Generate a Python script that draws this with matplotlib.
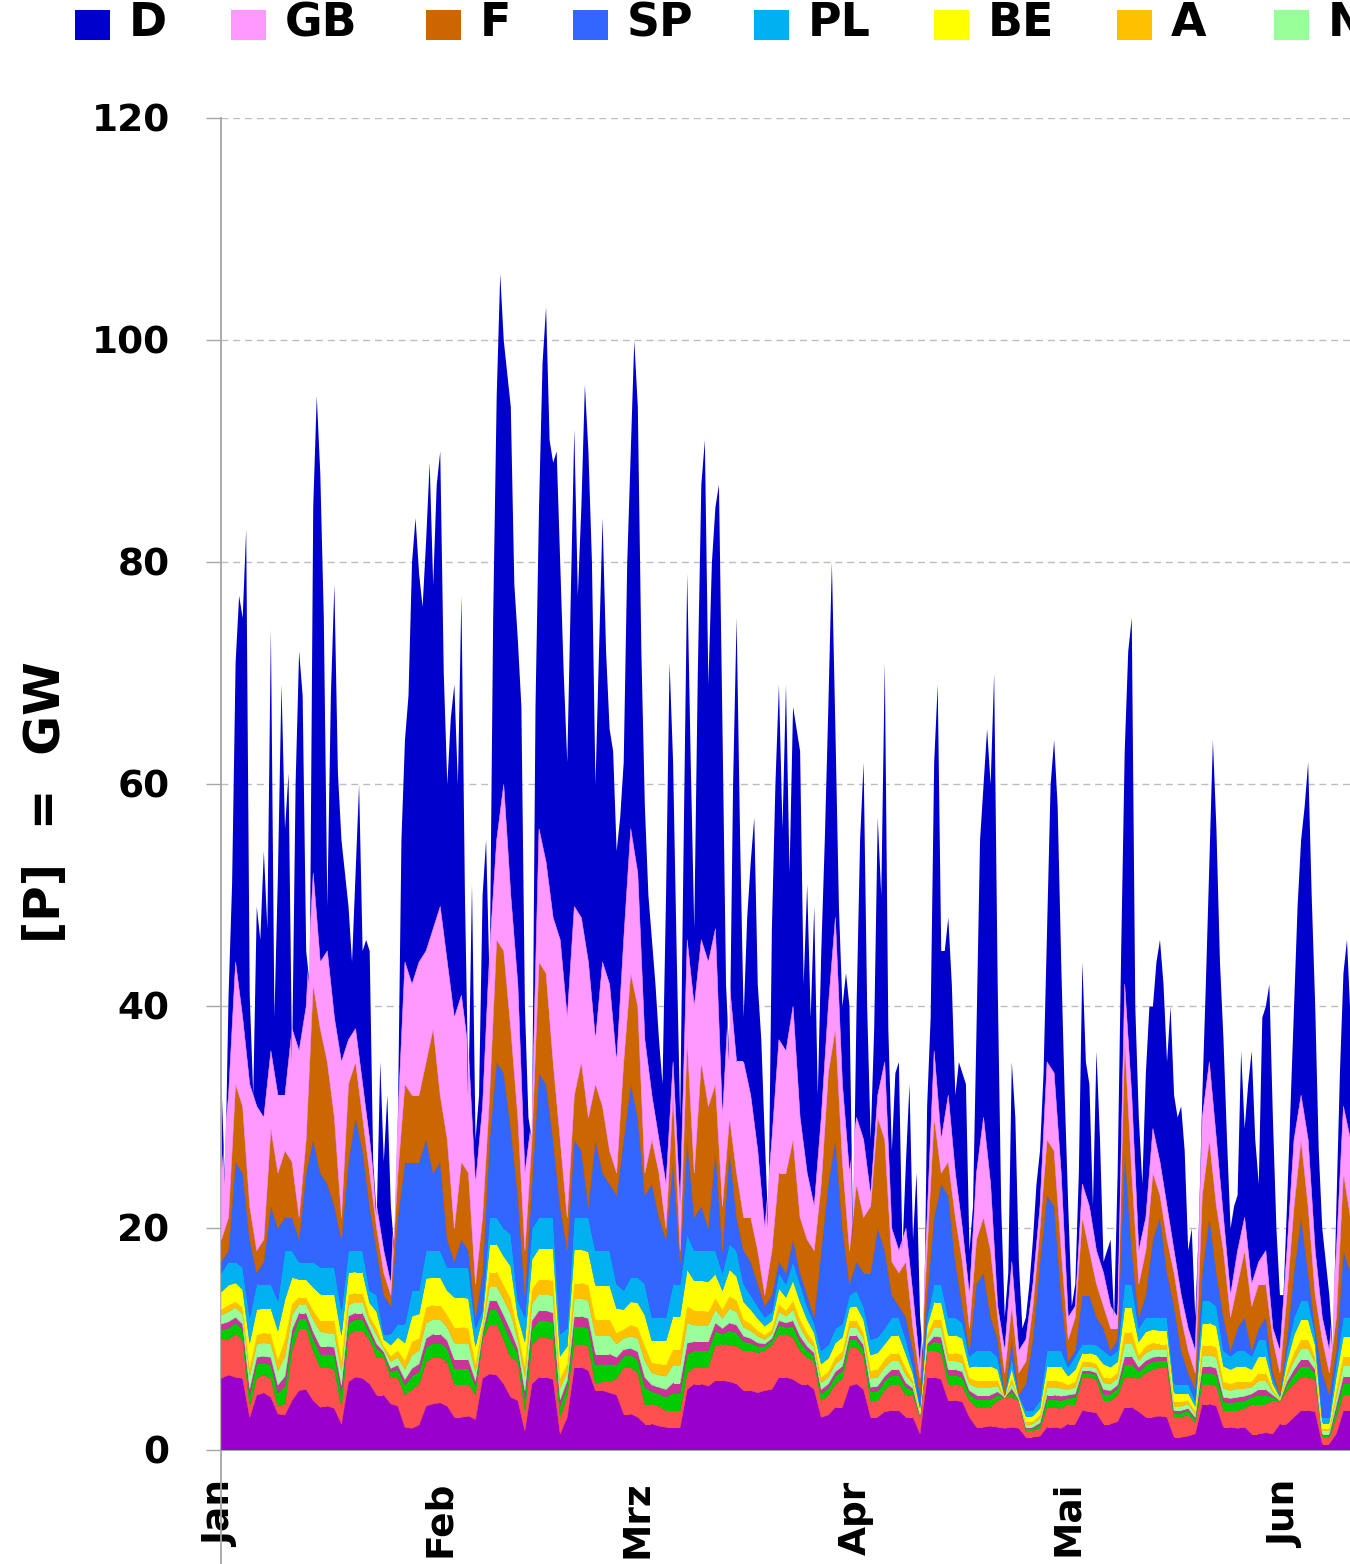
import numpy as np
import matplotlib.pyplot as plt
from matplotlib.patches import Rectangle
from matplotlib.lines import Line2D

# Windeinspeisung Europa, Jan - Jun (GW)
# Summe aller Laender, halbtaegig (Tag 0 = 1. Januar)
total = [
    33, 24, 41, 51, 71, 77, 75, 83, 41, 32, 49, 46, 54, 47, 74, 39, 52, 69, 56, 61,
    35, 60, 72, 68, 45, 42, 85, 95, 88, 75, 49, 68, 78, 61, 55, 52, 49, 44, 52, 60,
    45, 46, 45, 26, 21, 35, 26, 32, 22, 18, 30, 55, 64, 68, 80, 84, 79, 76, 82, 89,
    78, 87, 90, 70, 60, 66, 69, 60, 77, 50, 32, 51, 28, 32, 50, 55, 42, 75, 95, 106,
    100, 97, 94, 78, 73, 67, 40, 30, 28, 67, 85, 98, 103, 91, 89, 90, 80, 70, 62, 77,
    92, 77, 85, 96, 90, 80, 60, 72, 84, 72, 65, 63, 54, 57, 62, 80, 90, 100, 94, 72,
    58, 50, 46, 42, 37, 33, 50, 71, 62, 45, 30, 55, 79, 62, 47, 70, 87, 91, 69, 80,
    85, 87, 65, 42, 35, 60, 75, 55, 39, 48, 53, 57, 42, 37, 28, 20, 47, 60, 69, 56,
    69, 52, 67, 65, 63, 42, 51, 39, 49, 32, 45, 55, 67, 80, 65, 49, 40, 43, 40, 19,
    40, 55, 62, 40, 28, 38, 57, 50, 71, 38, 27, 34, 35, 18, 26, 33, 19, 25, 12, 8,
    31, 39, 62, 69, 45, 45, 48, 42, 32, 35, 34, 33, 18, 22, 38, 55, 60, 65, 60, 70,
    42, 22, 12, 16, 35, 30, 17, 11, 12, 15, 19, 24, 27, 34, 47, 60, 64, 58, 44, 32,
    22, 13, 15, 25, 44, 35, 33, 22, 36, 28, 17, 18, 19, 12, 25, 45, 63, 72, 75, 40,
    30, 24, 34, 40, 40, 44, 46, 42, 35, 40, 32, 30, 31, 27, 18, 20, 12, 20, 32, 42,
    53, 64, 56, 44, 37, 28, 20, 22, 23, 36, 29, 33, 36, 28, 24, 39, 40, 42, 30, 20,
    14, 14, 22, 31, 40, 49, 55, 58, 62, 50, 40, 27, 20, 17, 14, 9, 22, 34, 43, 46, 39,
]

# Obergrenzen der Schichten, taeglich (GW)
top_gb = [
    25, 32, 44, 39, 33, 31, 30, 36, 32, 32, 38, 36, 40, 52, 44, 45, 39, 35, 37, 38,
    33, 28, 22, 18, 15, 30, 44, 42, 44, 45, 47, 49, 44, 39, 41, 36, 24, 31, 45, 55,
    60, 50, 42, 25, 30, 56, 53, 48, 46, 39, 49, 48, 44, 37, 44, 42, 35, 46, 56, 52,
    37, 32, 28, 24, 35, 22, 46, 40, 46, 44, 47, 30, 42, 35, 35, 32, 27, 20, 28, 37,
    36, 40, 30, 25, 22, 30, 40, 48, 33, 25, 30, 28, 23, 32, 35, 20, 18, 20, 14, 7.5,
    21, 36, 28, 32, 25, 20, 14, 25, 30, 24, 13, 9, 17, 9, 10, 15, 22, 35, 34, 25,
    12, 13, 24, 22, 18, 16, 13, 12, 42, 32, 18, 21, 29, 26, 22, 18, 14, 11, 9, 30,
    35, 28, 21, 14, 18, 21, 15, 17, 18, 11, 9, 18, 28, 32, 28, 18, 12, 9, 18, 31,
    28,
]
top_f = [
    19, 21, 33, 31, 22, 18, 19, 29, 25, 27, 26, 21, 28, 42, 38, 35, 30, 21, 33, 35,
    30, 25, 20, 16, 14, 25, 33, 32, 32, 35, 38, 32, 28, 20, 26, 25, 15, 21, 32, 46,
    45, 38, 30, 18, 28, 44, 43, 35, 28, 21, 32, 35, 30, 33, 31, 27, 25, 35, 43, 40,
    25, 28, 25, 20, 32, 18, 37, 25, 35, 31, 33, 22, 30, 25, 21, 21, 18, 14, 18, 25,
    25, 28, 21, 19, 18, 24, 34, 38, 26, 18, 24, 21, 22, 30, 28, 17, 16, 17, 11, 6.5,
    18, 30, 25, 26, 21, 17, 11, 19, 21, 18, 12, 7, 13, 7, 8, 13, 20, 28, 27, 18,
    10, 12, 21, 18, 15, 13, 11, 11, 37, 25, 15, 18, 25, 23, 19, 16, 12, 9, 7, 23,
    28, 22, 18, 12, 15, 18, 13, 15, 15, 10, 7, 14, 22, 28, 22, 14, 10, 7, 12, 25,
    21,
]
top_sp = [
    17, 18, 26, 25, 19, 16, 17, 22, 20, 21, 21, 19, 25, 28, 25, 24, 22, 19, 26, 30,
    27, 22, 18, 14, 13, 21, 26, 26, 26, 28, 25, 26, 19, 17, 19, 18, 12, 16, 28, 35,
    34, 29, 23, 14, 24, 34, 33, 28, 22, 18, 28, 27, 22, 28, 25, 24, 23, 28, 33, 30,
    23, 24, 21, 19, 26, 17, 28, 21, 22, 20, 27, 18, 27, 21, 18, 17, 15, 13, 14, 17,
    16, 19, 16, 14, 12, 18, 24, 28, 20, 15, 17, 16, 16, 20, 18, 14, 13, 12, 9, 5,
    14, 21, 24, 23, 17, 13, 9, 15, 16, 12, 10, 5, 10, 5, 6, 10, 17, 23, 22, 14,
    8, 9, 14, 14, 12, 11, 9, 10, 27, 18, 12, 14, 19, 21, 16, 13, 9, 7, 5.5, 16,
    21, 16, 12, 9, 11, 12, 9, 11, 12, 7, 5, 10, 16, 21, 16, 11, 7, 5, 9, 18,
    16,
]
top_pl = [
    16, 17, 17, 16.5, 12, 15, 15, 15, 13.5, 18, 18, 17, 17, 17, 16.5, 16.5, 16.5, 12.6, 18, 18,
    18, 14.4, 14, 10.5, 10.5, 11.4, 11.4, 14.4, 14.4, 18, 18, 18, 16.5, 16.5, 16.5, 16.5, 11, 12.6, 21, 21,
    20, 19.5, 13.5, 12, 20, 21, 21, 21, 10.5, 11, 21, 21, 21, 18, 18, 18, 15, 14.4, 15.6, 15.6,
    15, 12, 12, 12, 15, 15, 19.5, 18, 18, 18, 18, 16, 18.6, 18, 15, 14, 13, 12, 12.5, 16,
    15, 17, 15, 13, 11.5, 9, 9.5, 11, 11.4, 14, 14.4, 13, 10, 10.2, 11, 12, 12, 10, 7.5, 4,
    12, 15, 15, 12, 12, 11.5, 8.5, 9, 9, 9, 8.4, 5, 8.4, 5, 3.6, 3.6, 4.5, 9, 9, 9,
    7.5, 8.5, 9.6, 9.6, 9.5, 9, 8.5, 9, 15, 15, 11, 12, 12, 12, 12, 6, 6, 6, 4.5, 13.5,
    13.5, 13, 9, 8.5, 9, 9, 8.5, 10, 10, 6.5, 5, 9, 12, 13.5, 13.5, 10.5, 3, 3, 8, 12,
    12,
]

# untere Laender, taeglich (GW)
p_base = [
    6.5, 6.8, 6.6, 6.5, 3.0, 5.0, 5.2, 4.8, 3.3, 3.2, 4.5, 5.4, 5.5, 4.5, 3.9, 4.0, 3.8, 2.4, 6.2, 6.6,
    6.5, 6.0, 5.0, 5.0, 4.2, 4.0, 2.1, 2.0, 2.3, 4.0, 4.2, 4.3, 4.0, 3.0, 3.0, 3.1, 2.8, 6.5, 6.9, 6.8,
    6.0, 4.8, 4.5, 1.8, 6.0, 6.6, 6.6, 6.4, 1.5, 3.0, 7.5, 7.5, 7.2, 5.4, 5.4, 5.2, 5.0, 3.3, 3.3, 3.0,
    2.4, 2.4, 2.2, 2.1, 2.1, 2.1, 5.5, 6.0, 6.0, 5.8, 6.3, 6.3, 6.2, 6.0, 5.4, 5.4, 5.2, 5.4, 5.5, 6.6,
    6.6, 6.4, 6.0, 6.0, 5.5, 3.0, 3.2, 3.9, 3.9, 5.8, 6.0, 5.5, 3.0, 3.0, 3.5, 3.6, 3.6, 3.0, 3.0, 1.5,
    6.6, 6.6, 6.4, 4.5, 4.5, 4.4, 3.0, 2.1, 2.1, 2.2, 2.1, 2.0, 2.1, 2.0, 1.2, 1.2, 1.3, 2.1, 2.1, 2.0,
    2.4, 2.4, 3.6, 3.5, 3.4, 2.4, 2.4, 2.6, 3.9, 3.9, 3.5, 3.0, 3.0, 3.1, 3.0, 1.2, 1.2, 1.3, 1.5, 4.2,
    4.2, 4.0, 2.1, 2.1, 2.0, 2.1, 1.5, 1.5, 1.6, 1.5, 2.4, 2.4, 3.0, 3.6, 3.6, 3.5, 0.6, 0.6, 1.5, 3.6,
    3.6,
]
p_red = [
    3.5, 3.2, 3.9, 3.5, 1.0, 1.6, 1.6, 1.7, 0.7, 1.0, 4.5, 5.6, 5.5, 4.5, 3.6, 3.5, 3.5, 1.6, 4.3, 4.2,
    4.3, 4.0, 3.4, 3.4, 2.4, 2.6, 2.9, 3.5, 3.7, 4.0, 4.2, 4.1, 4.0, 3.0, 3.0, 2.9, 2.2, 3.5, 4.5, 4.6,
    4.0, 3.6, 3.5, 1.8, 3.5, 3.6, 3.6, 3.6, 1.5, 2.0, 2.1, 2.1, 2.2, 0.6, 0.8, 1.0, 1.5, 4.2, 4.2, 4.0,
    1.8, 1.8, 1.8, 1.5, 1.5, 1.5, 1.5, 1.5, 1.5, 1.7, 3.3, 3.3, 3.3, 3.4, 3.6, 3.6, 3.6, 3.6, 4.0, 3.9,
    3.9, 3.8, 3.0, 2.4, 2.5, 1.5, 1.8, 2.1, 2.6, 3.5, 3.3, 3.0, 1.5, 1.5, 2.0, 2.4, 2.4, 2.0, 2.0, 1.5,
    2.4, 2.4, 2.4, 1.5, 1.5, 1.4, 1.5, 1.8, 1.8, 1.7, 2.4, 2.8, 2.7, 2.5, 0.6, 0.6, 0.7, 1.8, 1.8, 1.8,
    1.8, 1.8, 3.0, 3.1, 3.0, 2.1, 2.1, 2.4, 2.7, 2.7, 3.0, 4.0, 4.3, 4.4, 4.5, 1.8, 1.8, 1.9, 1.0, 1.8,
    1.8, 1.8, 1.5, 1.5, 1.6, 1.7, 2.7, 2.7, 2.6, 3.0, 2.0, 3.0, 3.0, 3.0, 3.0, 2.9, 0.6, 0.6, 1.5, 1.5,
    1.5,
]
p_green = [
    0.9, 1.0, 1.0, 0.9, 1.0, 1.2, 1.1, 1.2, 1.2, 1.6, 1.2, 0.9, 0.9, 1.1, 1.2, 1.2, 1.3, 1.2, 1.0, 1.0,
    1.0, 0.6, 0.8, 0.3, 0.5, 0.7, 0.9, 1.2, 1.1, 1.3, 1.3, 1.3, 1.2, 1.4, 1.4, 1.4, 0.8, 0.4, 1.3, 1.3,
    1.4, 1.5, 0.8, 1.1, 1.4, 1.5, 1.5, 1.5, 1.0, 0.8, 1.6, 1.6, 1.6, 1.7, 1.6, 1.6, 1.2, 1.0, 1.1, 1.2,
    1.5, 1.1, 1.1, 1.2, 1.6, 1.6, 1.7, 1.5, 1.5, 1.5, 1.2, 0.9, 1.3, 1.2, 0.8, 0.7, 0.6, 0.4, 0.4, 0.8,
    0.6, 1.0, 0.8, 0.6, 0.5, 0.6, 0.6, 0.7, 0.7, 0.7, 0.7, 0.6, 0.8, 0.8, 0.8, 0.8, 0.8, 0.7, 0.4, 0.1,
    0.4, 0.8, 0.9, 0.8, 0.8, 0.8, 0.6, 0.7, 0.7, 0.7, 0.5, 0.0, 0.5, 0.1, 0.2, 0.2, 0.3, 0.7, 0.7, 0.7,
    0.5, 0.6, 0.4, 0.4, 0.4, 0.6, 0.6, 0.6, 1.2, 1.2, 0.6, 0.7, 0.7, 0.6, 0.6, 0.4, 0.4, 0.4, 0.3, 1.0,
    1.0, 1.0, 0.8, 0.7, 0.8, 0.7, 0.6, 0.8, 0.8, 0.3, 0.1, 0.5, 0.8, 1.0, 1.0, 0.6, 0.2, 0.2, 0.7, 1.0,
    1.0,
]
p_magenta = [
    0.5, 0.6, 0.5, 0.5, 0.6, 0.6, 0.6, 0.7, 0.7, 0.9, 0.7, 0.5, 0.5, 0.6, 0.7, 0.7, 0.7, 0.7, 0.6, 0.6,
    0.6, 0.4, 0.4, 0.2, 0.3, 0.4, 0.5, 0.7, 0.7, 0.8, 0.8, 0.8, 0.7, 0.8, 0.8, 0.8, 0.5, 0.2, 0.8, 0.8,
    0.8, 0.9, 0.4, 0.7, 0.8, 0.9, 0.9, 0.9, 0.6, 0.5, 0.9, 0.9, 0.9, 1.0, 0.9, 0.9, 0.7, 0.6, 0.6, 0.7,
    0.9, 0.6, 0.6, 0.7, 0.9, 0.9, 1.0, 0.8, 0.8, 0.8, 0.7, 0.5, 0.7, 0.7, 0.5, 0.4, 0.3, 0.2, 0.2, 0.4,
    0.4, 0.5, 0.5, 0.4, 0.3, 0.4, 0.4, 0.4, 0.4, 0.4, 0.4, 0.4, 0.4, 0.5, 0.4, 0.5, 0.5, 0.4, 0.2, 0.1,
    0.2, 0.5, 0.5, 0.5, 0.5, 0.5, 0.3, 0.4, 0.4, 0.4, 0.3, 0.0, 0.3, 0.0, 0.1, 0.1, 0.2, 0.4, 0.4, 0.4,
    0.3, 0.3, 0.2, 0.2, 0.2, 0.4, 0.3, 0.3, 0.7, 0.7, 0.4, 0.4, 0.4, 0.4, 0.4, 0.2, 0.2, 0.2, 0.2, 0.6,
    0.6, 0.6, 0.4, 0.4, 0.4, 0.4, 0.3, 0.5, 0.5, 0.2, 0.0, 0.3, 0.5, 0.6, 0.6, 0.3, 0.1, 0.1, 0.4, 0.6,
    0.6,
]
p_nl = [
    0.8, 0.9, 0.9, 0.9, 1.1, 1.2, 1.2, 1.2, 1.3, 1.8, 1.3, 0.8, 0.8, 1.1, 1.3, 1.2, 1.3, 1.2, 1.0, 1.0,
    1.0, 0.6, 0.8, 0.3, 0.6, 0.7, 0.9, 1.2, 1.2, 1.4, 1.3, 1.3, 1.2, 1.5, 1.5, 1.5, 0.8, 0.4, 1.3, 1.3,
    1.4, 1.5, 0.8, 1.2, 1.5, 1.5, 1.5, 1.5, 1.0, 0.8, 1.6, 1.6, 1.6, 1.7, 1.7, 1.7, 1.2, 1.0, 1.1, 1.2,
    1.5, 1.1, 1.1, 1.2, 1.6, 1.6, 1.8, 1.5, 1.5, 1.5, 1.2, 0.9, 1.3, 1.2, 0.8, 0.7, 0.6, 0.4, 0.4, 0.8,
    0.6, 1.0, 0.8, 0.6, 0.5, 0.6, 0.6, 0.7, 0.7, 0.7, 0.7, 0.6, 0.8, 0.8, 0.8, 0.8, 0.8, 0.7, 0.4, 0.2,
    0.4, 0.8, 0.9, 0.8, 0.8, 0.8, 0.6, 0.7, 0.7, 0.7, 0.5, 0.0, 0.5, 0.1, 0.3, 0.3, 0.4, 0.7, 0.7, 0.7,
    0.5, 0.6, 0.4, 0.4, 0.4, 0.6, 0.6, 0.6, 1.2, 1.2, 0.6, 0.7, 0.7, 0.6, 0.6, 0.4, 0.4, 0.4, 0.3, 1.0,
    1.0, 1.0, 0.8, 0.7, 0.8, 0.7, 0.6, 0.8, 0.8, 0.3, 0.1, 0.5, 0.8, 1.0, 1.0, 0.6, 0.3, 0.3, 0.7, 1.0,
    1.0,
]
p_a = [
    0.5, 0.6, 0.5, 0.6, 0.8, 0.8, 0.9, 0.9, 1.0, 1.5, 1.0, 0.6, 0.6, 0.8, 1.0, 1.1, 1.1, 1.0, 0.9, 0.8,
    0.8, 0.5, 0.6, 0.2, 0.5, 0.6, 0.8, 1.2, 1.1, 1.4, 1.3, 1.3, 1.1, 1.4, 1.4, 1.3, 0.7, 0.3, 1.3, 1.3,
    1.3, 1.4, 0.7, 1.0, 1.3, 1.3, 1.3, 1.4, 0.9, 0.7, 1.4, 1.4, 1.4, 1.4, 1.4, 1.4, 1.0, 0.8, 1.0, 1.0,
    1.3, 0.9, 1.0, 1.0, 1.4, 1.4, 1.5, 1.3, 1.3, 1.2, 1.0, 0.8, 1.1, 1.0, 0.7, 0.6, 0.5, 0.4, 0.4, 0.7,
    0.5, 0.8, 0.7, 0.6, 0.4, 0.5, 0.5, 0.6, 0.6, 0.6, 0.6, 0.5, 0.7, 0.7, 0.7, 0.7, 0.7, 0.6, 0.3, 0.1,
    0.4, 0.7, 0.7, 0.7, 0.7, 0.7, 0.5, 0.6, 0.6, 0.6, 0.5, 0.0, 0.4, 0.0, 0.2, 0.2, 0.3, 0.6, 0.6, 0.6,
    0.4, 0.5, 0.4, 0.4, 0.4, 0.5, 0.5, 0.5, 1.0, 1.0, 0.5, 0.6, 0.6, 0.5, 0.5, 0.4, 0.4, 0.3, 0.2, 0.9,
    0.9, 0.9, 0.6, 0.6, 0.6, 0.6, 0.5, 0.7, 0.7, 0.2, 0.1, 0.4, 0.7, 0.8, 0.8, 0.5, 0.2, 0.2, 0.6, 0.8,
    0.8,
]
p_be = [
    1.6, 1.8, 1.7, 1.6, 2.2, 2.3, 2.2, 2.3, 2.6, 3.6, 2.4, 1.6, 1.6, 2.1, 2.4, 2.4, 2.4, 2.3, 2.0, 1.9,
    1.9, 1.2, 1.5, 0.6, 1.0, 1.2, 1.6, 2.3, 2.2, 2.6, 2.5, 2.5, 2.2, 2.7, 2.7, 2.7, 1.6, 0.7, 2.5, 2.5,
    2.6, 2.9, 1.4, 2.2, 2.7, 2.8, 2.8, 2.9, 2.0, 1.6, 3.0, 3.0, 3.0, 3.1, 3.1, 3.1, 2.2, 1.8, 2.1, 2.2,
    2.8, 2.0, 2.1, 2.2, 3.0, 3.0, 3.3, 2.7, 2.7, 2.7, 2.2, 1.7, 2.4, 2.2, 1.6, 1.3, 1.1, 0.8, 0.8, 1.4,
    1.2, 1.8, 1.6, 1.2, 0.9, 1.2, 1.2, 1.3, 1.3, 1.2, 1.3, 1.2, 1.4, 1.5, 1.4, 1.6, 1.6, 1.3, 0.6, 0.3,
    0.8, 1.6, 1.6, 1.6, 1.6, 1.5, 1.0, 1.3, 1.3, 1.3, 1.0, 0.1, 0.9, 0.1, 0.5, 0.5, 0.6, 1.3, 1.3, 1.4,
    0.8, 1.1, 0.8, 0.8, 0.8, 1.2, 1.0, 1.0, 2.2, 2.2, 1.2, 1.3, 1.2, 1.2, 1.2, 0.8, 0.8, 0.7, 0.5, 2.0,
    2.0, 1.9, 1.4, 1.3, 1.4, 1.4, 1.1, 1.5, 1.5, 0.5, 0.1, 0.9, 1.6, 1.8, 1.8, 1.1, 0.5, 0.5, 1.3, 1.8,
    1.8,
]

months = ['Jan', 'Feb', 'Mrz', 'Apr', 'Mai', 'Jun']
month_start = [0, 31, 59, 90, 120, 151]

legend_names = ['D', 'GB', 'F', 'SP', 'PL', 'BE', 'A', 'NL']
legend_cols = ['#0000CC', '#FF99FF', '#CC6600', '#3366FF', '#00B0F0', '#FFFF00', '#FFC000', '#99FF99']

t_half = np.arange(len(total)) * 0.5
t_day = np.arange(len(top_gb))

# Schichten von unten nach oben
layers = [np.array(v, float) for v in [p_base, p_red, p_green, p_magenta, p_nl, p_a, p_be]]
colors = ['#9900CC', '#FF5050', '#00CC00', '#CC3399', '#99FF99', '#FFC000', '#FFFF00']
base = np.sum(layers, axis=0)
for top, c in zip([top_pl, top_sp, top_f, top_gb], ['#00B0F0', '#3366FF', '#CC6600', '#FF99FF']):
    th = np.clip(np.array(top, float) - base, 0, None)
    layers.append(th)
    colors.append(c)
    base = base + th

W, H = 1350, 1564
fig = plt.figure(figsize=(W / 100, H / 100), dpi=100)
ax = fig.add_axes([221 / W, (H - 1450) / H, 1 - 221 / W, (1450 - 118) / H])

# D = Rest bis zur Summe
area = ax.fill_between(t_half, 0, total, color='#0000CC', lw=0, zorder=2)
clip = area.get_paths()[0]
polys = ax.stackplot(t_day, layers, colors=colors, edgecolor='face', lw=0.4, zorder=3)
for p in polys:
    p.set_clip_path(clip, ax.transData)

ax.set_xlim(0, 160)
ax.set_ylim(0, 120)
ax.set_yticks(range(0, 121, 20))
ax.set_xticks(month_start)
ax.set_xticklabels(months, rotation=90, fontsize=27, fontweight='bold', va='top')
for lab in ax.get_yticklabels():
    lab.set_fontsize(27)
    lab.set_fontweight('bold')
ax.tick_params(axis='x', length=0, pad=22)
ax.tick_params(axis='y', length=11, width=1, color='#A6A6A6', pad=26)

ax.grid(axis='y', linestyle=(0, (5, 3.5)), color='#BDBDBD', lw=1)
ax.set_axisbelow(True)
for s in ['top', 'right']:
    ax.spines[s].set_visible(False)
for s in ['left', 'bottom']:
    ax.spines[s].set_color('#A6A6A6')
    ax.spines[s].set_linewidth(1.3)
ax.add_line(Line2D([0, 0], [0, -0.09], transform=ax.transAxes, color='#A6A6A6',
                   lw=1.3, clip_on=False))

fig.text(0.034, 0.487, '[P]  =  GW', rotation=90, fontsize=35, fontweight='bold',
         ha='center', va='center')

# Legende oben
sq_x = [75, 231, 426, 573, 754, 934, 1117, 1274]
for x, name, c in zip(sq_x, legend_names, legend_cols):
    fig.patches.append(Rectangle((x / W, 1 - 40 / H), 35 / W, 30 / H, transform=fig.transFigure,
                                 facecolor=c, edgecolor='none'))
    fig.text((x + 54) / W, 1 - 24 / H, name, fontsize=33, fontweight='bold',
             ha='left', va='center')

fig.savefig('out.png', dpi=100)
